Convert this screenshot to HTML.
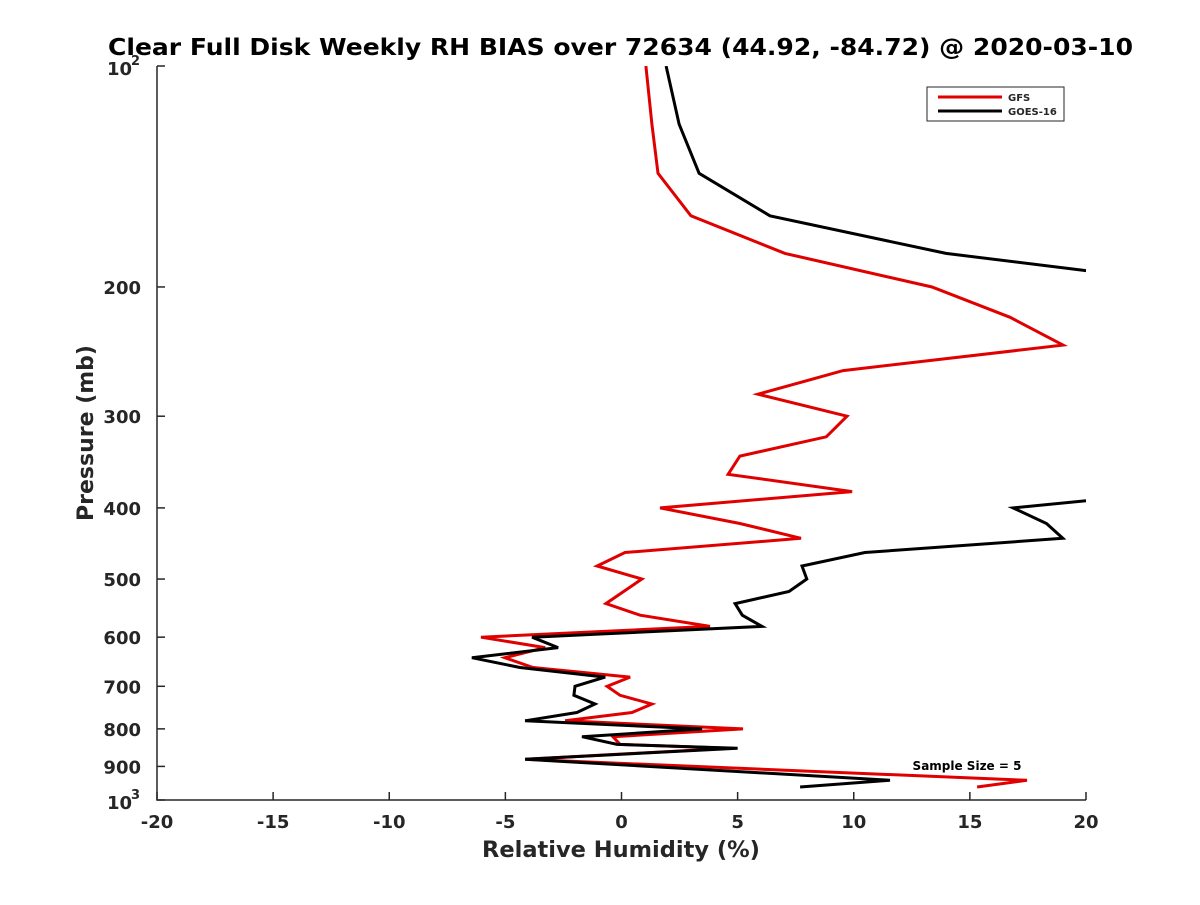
<!DOCTYPE html>
<html><head><meta charset="utf-8"><style>
body{margin:0;background:#fff}
svg text{font-family:"DejaVu Sans","Liberation Sans",sans-serif;font-weight:bold;fill:#262626}
</style></head><body>
<svg id="chart" width="1200" height="900" xmlns="http://www.w3.org/2000/svg">
<defs><clipPath id="plotclip"><rect x="157" y="66" width="929" height="734"/></clipPath></defs>
<text x="108" y="55" font-size="23" textLength="1025" lengthAdjust="spacingAndGlyphs" style="fill:#000">Clear Full Disk Weekly RH BIAS over 72634 (44.92, -84.72) @ 2020-03-10</text>
<g id="axes"></g>
<g id="series" clip-path="url(#plotclip)"></g>
<g>
<rect x="927" y="87" width="137" height="34" fill="#fff" stroke="#262626" stroke-width="1"/>
<line x1="938" y1="97" x2="1002" y2="97" stroke="#e00000" stroke-width="3"/>
<text x="1008" y="101" font-size="10">GFS</text>
<line x1="938" y1="111" x2="1002" y2="111" stroke="#000" stroke-width="3"/>
<text x="1008" y="115" font-size="10">GOES-16</text>
</g>
<text x="967" y="770" text-anchor="middle" font-size="12" style="fill:#000">Sample Size = 5</text>
<text x="621" y="857" text-anchor="middle" font-size="22.5">Relative Humidity (%)</text>
<text transform="translate(93,433) rotate(-90)" text-anchor="middle" font-size="22">Pressure (mb)</text>
</svg>
<script>
const gfsPressure=[100,120,140,160,180,200,220,240,260,280,300,320,340,360,380,400,420,440,460,480,500,540,560,580,600,620,640,660,680,700,720,740,760,780,800,820,840,850,880,940,960];
const gfsRH=[1.05,1.31,1.57,2.99,7.04,13.37,16.73,19.01,9.54,5.88,9.71,8.82,5.10,4.59,9.93,1.66,5.10,7.73,0.15,-1.05,0.88,-0.67,0.80,3.81,-6.05,-3.29,-5.02,-3.81,0.37,-0.62,-0.06,1.31,0.45,-2.43,5.23,-0.37,-0.06,4.67,-4.15,17.46,15.31];
const goesPressure=[100,120,140,160,180,190,200,220,240,260,280,300,320,340,360,380,400,420,440,460,480,500,520,540,560,580,600,620,640,660,680,700,720,740,760,780,800,820,840,850,880,940,960];
const goesRH=[1.92,2.48,3.34,6.39,13.97,20,30,30,30,30,30,30,30,30,30,24,16.86,18.3,19.0,10.48,7.77,7.98,7.21,4.89,5.2,6.05,-3.85,-2.73,-6.44,-4.37,-0.7,-2.0,-2.05,-1.14,-1.92,-4.15,3.47,-1.70,-0.19,5.0,-4.15,11.56,7.69];
const xTicks=[-20,-15,-10,-5,0,5,10,15,20];
const yTicks=[200,300,400,500,600,700,800,900];
const NS="http://www.w3.org/2000/svg";
const X0=157,X1=1086,Y0=66,Y1=800;
function xs(v){return X0+(v+20)/40*(X1-X0);}
function ys(p){return Y0+Math.log10(p/100)*(Y1-Y0);}
function mk(tag,attrs,parent){const e=document.createElementNS(NS,tag);for(const k in attrs)e.setAttribute(k,attrs[k]);parent.appendChild(e);return e;}
const axes=document.getElementById('axes');
const ax=mk('path',{d:`M${X0},${Y0}V${Y1}H${X1}`,fill:'none',stroke:'#262626','stroke-width':1.5},axes);


xTicks.forEach(t=>{
 const x=xs(t);
 const l=mk('line',{x1:x,x2:x,y1:Y1,y2:Y1-8,stroke:'#262626','stroke-width':1.5},axes);
 
 
 const tx=mk('text',{x:x,y:828,'text-anchor':'middle','font-size':18},axes);
 tx.textContent=t;
 
 
});
[100].concat(yTicks,[1000]).forEach(t=>{
 const y=ys(t);
 const l=mk('line',{x1:X0,x2:X0+8,y1:y,y2:y,stroke:'#262626','stroke-width':1.5},axes);
 
 
});
yTicks.forEach(t=>{
 const tx=mk('text',{x:141,y:ys(t)+7,'text-anchor':'end','font-size':18},axes);
 tx.textContent=t;
 
 
});
[[100,'2'],[1000,'3']].forEach(([p,e])=>{
 const tx=mk('text',{x:107,y:ys(p)+9,'font-size':18},axes);
 tx.textContent='10';
 
 
 const sp=mk('text',{x:131,y:ys(p)-1,'font-size':13},axes);
 sp.textContent=e;
 
 
});
const ser=document.getElementById('series');
function line(P,V,color,name){
 const d=P.map((p,i)=>(i?'L':'M')+xs(V[i]).toFixed(1)+','+ys(p).toFixed(1)).join('');
 const e=mk('path',{d:d,fill:'none',stroke:color,'stroke-width':3,'stroke-linejoin':'miter'},ser);
 
 
}
line(gfsPressure,gfsRH,'#e00000','gfs-line');
line(goesPressure,goesRH,'#000','goes16-line');
</script>
</body></html>
